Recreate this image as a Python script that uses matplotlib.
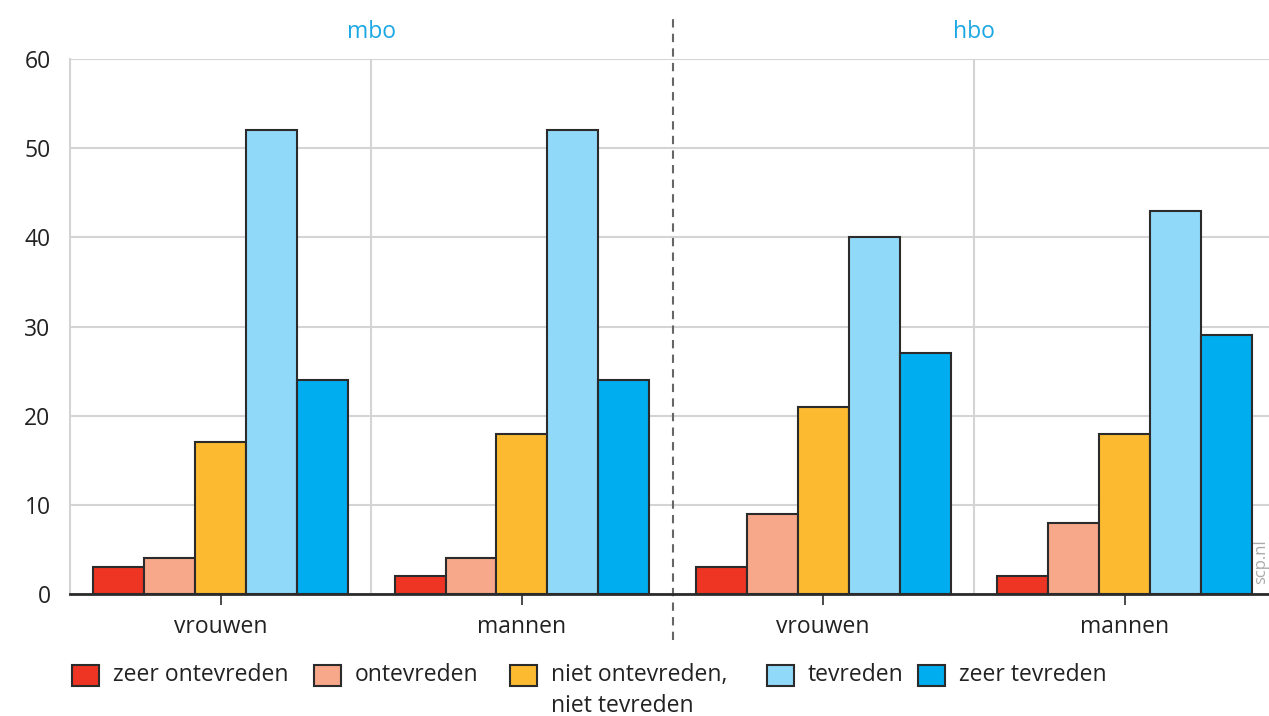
import matplotlib.pyplot as plt
from matplotlib.patches import Rectangle
import numpy as np

plt.rcParams['font.family'] = ['Open Sans', 'DejaVu Sans']

groups = ['vrouwen', 'mannen', 'vrouwen', 'mannen']
sections = ['mbo', 'hbo']
series = ['zeer ontevreden', 'ontevreden', 'niet ontevreden,\nniet tevreden', 'tevreden', 'zeer tevreden']
values = [
    [3, 2, 3, 2],      # zeer ontevreden
    [4, 4, 9, 8],      # ontevreden
    [17, 18, 21, 18],  # niet ontevreden, niet tevreden
    [52, 52, 40, 43],  # tevreden
    [24, 24, 27, 29],  # zeer tevreden
]
colors = ['#ee3524', '#f7a88a', '#fbba30', '#91d9f8', '#00adee']

W, H = 1269, 716
fig = plt.figure(figsize=(W / 100, H / 100), dpi=100)
ax = fig.add_axes([70 / W, 122 / H, 1 - 70 / W, 535 / H])

x = np.arange(len(groups))
bw = 0.169
for i, (vals, c) in enumerate(zip(values, colors)):
    ax.bar(x + (i - 2) * bw, vals, width=bw, color=c,
           edgecolor='#2b2b2b', linewidth=1.5, zorder=3)

ax.set_xlim(-0.5, (W - 70) / 301.3 - 0.5)
ax.set_ylim(0, 60)
ax.set_yticks(range(0, 61, 10))
ax.grid(axis='y', color='#d4d4d4', linewidth=1.5, zorder=0)
for gx in [0.5, 2.5]:
    ax.axvline(gx, color='#d4d4d4', linewidth=1.5, zorder=0)
ax.axvline(1.5, ymin=-0.086, ymax=1.082, color='#666666', linewidth=1.5,
           linestyle=(0, (4, 3)), clip_on=False, zorder=4)

for s in ['top', 'right']:
    ax.spines[s].set_visible(False)
ax.spines['left'].set_color('#d4d4d4')
ax.spines['left'].set_linewidth(1.5)
ax.spines['bottom'].set_color('#2b2b2b')
ax.spines['bottom'].set_linewidth(2)
ax.spines['bottom'].set_zorder(5)

ax.set_xticks(x)
ax.set_xticklabels(groups, fontsize=16.5, color='#222222')
ax.tick_params(axis='x', length=8, width=1.2, color='#2b2b2b', pad=7)
ax.tick_params(axis='y', length=0, labelsize=16.5, labelcolor='#222222', pad=14)

for sx, name in zip([0.5, 2.5], sections):
    ax.text(sx, 1.05, name, transform=ax.get_xaxis_transform(), ha='center',
            va='center', fontsize=16.5, color='#1aa7e4')

fig.text(1261 / W, 1 - 562 / H, 'scp.nl', rotation=90, ha='center', va='center',
         fontsize=12, color='#aaaaaa')

# legend drawn by hand so the swatch lines up with the first text line
box_x = [72, 314, 510, 767, 918]
for bx, lab, c in zip(box_x, series, colors):
    fig.add_artist(Rectangle((bx / W, 1 - 686 / H), 27 / W, 21 / H, transform=fig.transFigure,
                             facecolor=c, edgecolor='#2b2b2b', linewidth=1.5))
    fig.text((bx + 41) / W, 1 - 663 / H, lab, ha='left', va='top', fontsize=16.5,
             color='#222222', linespacing=1.38)

fig.savefig('out.png', dpi=100)
